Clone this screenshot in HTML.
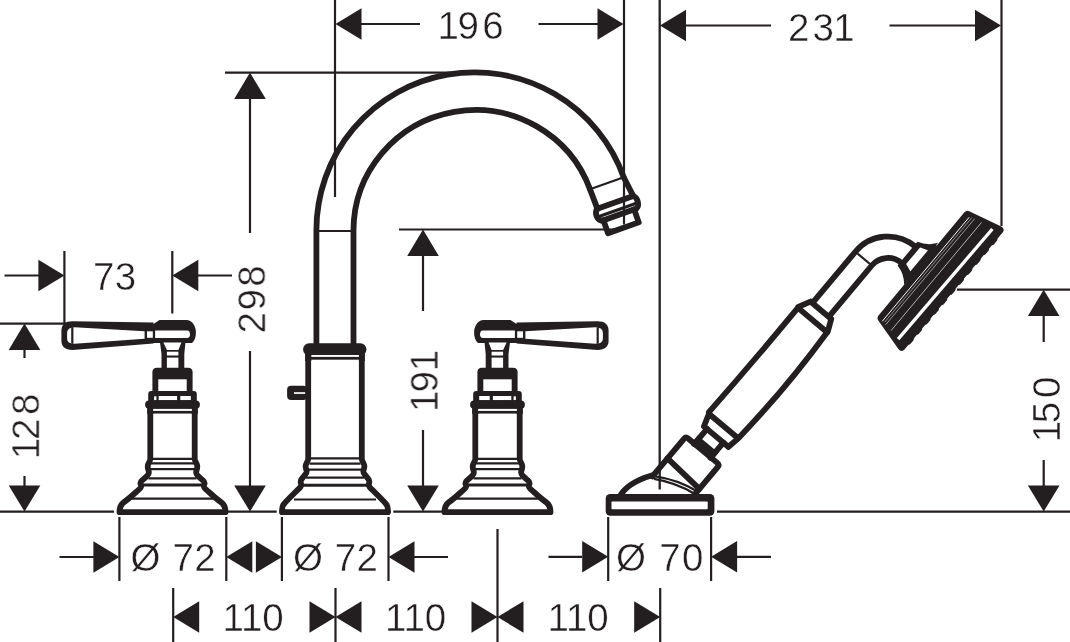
<!DOCTYPE html>
<html lang="en">
<head>
<meta charset="utf-8">
<title>Dimension drawing</title>
<style>
html,body{margin:0;padding:0;background:#fff;}
body{width:1070px;height:642px;overflow:hidden;}
svg{display:block;}
.k{stroke:#231f20;stroke-width:5.8;fill:none;stroke-linecap:round;stroke-linejoin:round;}
.m{stroke:#231f20;stroke-width:3;fill:none;stroke-linecap:butt;}
.t{stroke:#231f20;stroke-width:2.2;fill:none;stroke-linecap:butt;}
.f{fill:#231f20;stroke:none;}
.w{fill:#fff;stroke:none;}
text{font-family:"Liberation Sans",sans-serif;font-size:38.5px;fill:#231f20;stroke:#fff;stroke-width:0.45px;}
</style>
</head>
<body>
<svg width="1070" height="642" viewBox="0 0 1070 642">
<rect width="1070" height="642" fill="#fff"/>

<!-- ===== dimension / extension lines ===== -->
<g class="t" id="dims">
  <!-- 196 -->
  <path d="M335,0V197"/>
  <path d="M624,0V224.5"/>
  <path d="M361,24H420M538.5,24H598"/>
  <!-- 231 -->
  <path d="M659.7,0V489.5" stroke-width="2.3"/>
  <path d="M1001.5,0V226"/>
  <path d="M685,25.5H771M889.5,25.5H975"/>
  <!-- 298 -->
  <path d="M225,72.6H470"/>
  <path d="M250,98V233M250,351V487"/>
  <!-- 191 -->
  <path d="M399,229.5H619"/>
  <path d="M423,255V311M423,430V487"/>
  <!-- 73 -->
  <path d="M64.4,251V324M172.3,251V313.5"/>
  <path d="M4.5,275.5H39M198,275.5H232"/>
  <!-- 128 -->
  <path d="M0,323.6H66"/>
  <path d="M24.5,349V358M24.5,476V487"/>
  <!-- ground line -->
  <path d="M0,511.7H114M228,511.7H276.7M393.3,511.7H442M717,511.7H1070"/>
  <!-- 150 -->
  <path d="M957,289.7H1070"/>
  <path d="M1043.7,315V342M1043.7,460V488"/>
  <!-- dia 72 / 70 -->
  <path d="M119.4,517V581M226.3,517V581M281.9,517V581M388.5,517V581M608.2,517V581M711.1,517V581"/>
  <path d="M59.5,557H94M414,557H448M548.5,556.8H582M737,556.8H771"/>
  <!-- 110 -->
  <path d="M173.2,588V642M335.5,588V642M497.5,529V642M660.2,588V642"/>
</g>
<g class="f" id="arrows">
  <path d="M335.5,24L361.5,8.2V39.8Z"/>
  <path d="M623.5,24L597.5,8.2V39.8Z"/>
  <path d="M660,25.5L686,9.7V41.3Z"/>
  <path d="M1001,25.5L975,9.7V41.3Z"/>
  <path d="M250,72.6L234.2,99H265.8Z"/>
  <path d="M250,511.5L234.2,485.5H265.8Z"/>
  <path d="M423,229.5L407.2,256H438.8Z"/>
  <path d="M423,511.5L407.2,485.5H438.8Z"/>
  <path d="M64.4,275.5L38.4,259.7V291.3Z"/>
  <path d="M172.3,275.5L198.3,259.7V291.3Z"/>
  <path d="M24.5,323.6L8.7,350H40.3Z"/>
  <path d="M24.5,511.5L8.7,485.5H40.3Z"/>
  <path d="M1043.7,289.7L1027.9,316H1059.5Z"/>
  <path d="M1043.7,511.5L1027.9,485.5H1059.5Z"/>
  <path d="M119.4,557L93.4,541.2V572.8Z"/>
  <path d="M226.3,557L252.3,541.2V572.8Z"/>
  <path d="M281.9,557L255.9,541.2V572.8Z"/>
  <path d="M388.5,557L414.5,541.2V572.8Z"/>
  <path d="M608.2,556.8L582.2,541V572.6Z"/>
  <path d="M711.1,556.8L737.1,541V572.6Z"/>
  <path d="M173.2,617L199.2,601.2V632.8Z"/>
  <path d="M335.5,617L309.5,601.2V632.8Z"/>
  <path d="M335.5,617L361.5,601.2V632.8Z"/>
  <path d="M497.5,617L471.5,601.2V632.8Z"/>
  <path d="M497.5,617L523.5,601.2V632.8Z"/>
  <path d="M660.2,617L634.2,601.2V632.8Z"/>
</g>


<!-- ===== fixtures ===== -->
<defs>
  <!-- handle valve, lever to the right, centred on x=0 -->
  <g id="hdl">
    <!-- lever -->
    <path class="f" d="M19,322.6L100,321.3Q111.1,321.3 111.1,331V340.5Q111.1,349.9 100,349.9L19,343.6Z"/>
    <path class="w" d="M27.9,331.2L98,327.2Q105.4,327.4 105.4,333V338.5Q105.4,343.8 98,343.8L27.900,338.8Z"/>
    <rect class="w" x="19.7" y="331.3" width="5.8" height="6.5"/>
    <path class="t" d="M100.2,327.2V343.8" stroke-width="1.5"/>
    <!-- hub -->
    <path class="f" d="M13,320H-13.9C-19.5,320 -23.4,326 -23.4,332.4C-23.4,337 -22.3,340.5 -19.5,342.9H19.5V324.3Z"/>
    <path class="w" d="M17.4,330.4H-14.5Q-17.5,330.4 -17.5,334.2Q-17.5,338 -14.5,338H17.4Z"/>
    <!-- stem -->
    <path class="f" d="M-13.2,340L-11.8,354V369H11V354L12.8,340Z"/>
    <path class="w" d="M-8.9,342.4H9.1L5.6,349.9H-5.9Z"/>
    <rect class="w" x="-5.9" y="351.7" width="11.5" height="3.8"/>
    <rect class="w" x="-5.9" y="357.6" width="11.5" height="10.4"/>
    <!-- upper collar -->
    <path class="f" d="M-20.1,392V372.3Q-20.1,367.8 -15.6,367.8H15.6Q20.1,367.8 20.1,372.3V392Z"/>
    <rect class="w" x="-14.2" y="379.3" width="28.4" height="11.9"/>
    <!-- lower collar -->
    <path class="f" d="M-24.3,402V394Q-24.3,391 -21.3,391H21.3Q24.3,391 24.3,394V402Z"/>
    <rect class="w" x="-18.3" y="396" width="10.5" height="4.1"/>
    <rect class="w" x="-4.6" y="396" width="18.4" height="4.1"/>
    <rect class="w" x="16.1" y="396.3" width="2.3" height="3.8"/>
    <rect class="f" x="-27.4" y="400.6" width="54.8" height="8.2" rx="4.1"/>
    <rect class="f" x="-25.4" y="403" width="50.8" height="10.8"/>
    <rect class="w" x="-19.4" y="408.9" width="38.8" height="2"/>
    <rect class="w" x="-19" y="413.7" width="38" height="4"/>
    <!-- body + bell -->
    <path class="k" stroke-width="6.3" stroke-linecap="butt" d="M-22.2,412L-22.2,459C-22.2,461.5 -24.8,463.5 -24.8,466.3C-24.8,469.5 -23.6,470.5 -23.6,472.6C-23.6,474.6 -24.6,475.2 -26,476.5L-30.3,480.3C-31.5,481.3 -32.1,481.8 -32.1,483C-32.1,484.4 -31.3,484.8 -31.3,486C-31.3,488 -34,490 -36,491.7C-38.5,493.8 -40,495.3 -42,497C-45,499.6 -47,501 -49.5,503C-52,505.2 -53,507.5 -53,512"/>
    <path class="k" stroke-width="6.3" stroke-linecap="butt" d="M22.2,412L22.2,459C22.2,461.5 24.8,463.5 24.8,466.3C24.8,469.5 23.6,470.5 23.6,472.6C23.6,474.6 24.6,475.2 26,476.5L30.3,480.3C31.5,481.3 32.1,481.8 32.1,483C32.1,484.4 31.3,484.8 31.3,486C31.3,488 34,490 36,491.7C38.5,493.8 40,495.3 42,497C45,499.6 47,501 49.5,503C52,505.2 53,507.5 53,512"/>
    <path class="k" stroke-width="7" d="M-52.5,512.2H52.5"/>
    <path class="t" d="M-20,458.9H20M-22,463.4H22M-23,469.1H23M-24,478.4H24M-41,498.6H41"/>
    <path class="m" stroke-width="2.8" d="M-30,485.1H30"/>
  </g>
</defs>
<use href="#hdl" transform="translate(172.5,0) scale(-1,1)"/>
<use href="#hdl" transform="translate(497.5,0)"/>

<!-- faucet -->
<g id="faucet">
  <!-- spout pipe -->
  <path class="k" stroke-width="6.9" stroke-linecap="butt" d="M316.4,345V230.5A158.24,157.9 0 0 1 623.7,177.2"/>
  <path class="k" stroke-width="6.9" stroke-linecap="butt" d="M353.5,345V230.6A121.96,120.6 0 0 1 590,189.2"/>
  <path class="t" d="M317,231H353"/>
  <g transform="translate(606.85,183.2) rotate(-19.6)">
    <path class="t" d="M-17.9,0H17.9"/>
    <path class="k" stroke-width="6.6" d="M-17.9,0L-17.5,20.5M17.9,0L20.5,20.5"/>
    <path class="k" stroke-width="6" d="M-17.5,20.9H20.5"/>
    <path class="k" stroke-width="5.6" d="M-17.5,20.9C-21.8,23.3 -21.8,31.5 -17,33.8H19.5C24,31.5 24,23.3 20.5,20.9"/>
    <path class="m" stroke-width="2.3" d="M-18.5,28.8H21"/>
    <path class="k" stroke-width="5.6" d="M-15.7,33.8V47.6H16.9V33.8"/>
  </g>
  <!-- cap -->
  <rect class="f" x="303.1" y="343.2" width="63.3" height="12.4" rx="6"/>
  <rect class="f" x="305.1" y="349" width="59.8" height="12"/>
  <rect class="w" x="311.3" y="355" width="47.6" height="1.9"/>
  <rect class="w" x="311.3" y="359.7" width="47.6" height="4"/>
  <!-- diverter knob -->
  <rect class="f" x="287.1" y="385.8" width="20" height="14.2" rx="4"/>
  <rect class="w" x="294" y="392.2" width="11.5" height="1.7"/>
  <!-- body + bell -->
  <path class="k" stroke-width="6.3" stroke-linecap="butt" d="M308.2,358L308.2,459C308.2,461.5 305.6,463.5 305.6,466.3C305.6,469 306.7,469.8 306.7,471.2C306.7,473 306,473.6 305,474.8L302,478.6C301.2,479.6 300.7,480.2 300.7,481.4C300.7,483 301.2,483.6 301.2,484.9C301.2,487 298.5,489 297,490.5C294.5,493 292,495.5 289.5,498C287,500.5 285,502.5 283.2,505C282,507 282,509 282,512"/>
  <path class="k" stroke-width="6.3" stroke-linecap="butt" d="M361.8,358L361.8,459C361.8,461.5 364.4,463.5 364.4,466.3C364.4,469 363.3,469.8 363.3,471.2C363.3,473 364,473.6 365,474.8L368,478.6C368.8,479.6 369.3,480.2 369.3,481.4C369.3,483 368.8,483.6 368.8,484.9C368.8,487 371.5,489 373,490.5C375.5,493 378,495.5 380.5,498C383,500.5 385,502.5 386.8,505C388,507 388,509 388,512"/>
  <path class="k" stroke-width="7" d="M282.500,512.2H387.500"/>
  <path class="t" d="M311,458.4H359M309.500,463.6H360.500M308,469.6H362M306,477.6H364M294,499.5H376"/>
  <path class="m" stroke-width="2.8" d="M303,485.3H367"/>
</g>


<!-- hand shower + holder -->
<g id="handshower">
  <!-- dome of holder -->
  <path class="k" stroke-width="6.4" stroke-linecap="butt" d="M619.5,497C624,488 634,480.500 652.500,475.2"/>
  <path class="t" stroke-width="1.1" d="M655,476.3Q678,479.500 697.500,491.500M654,478.8Q676,482.500 694,493.500"/>
  <g transform="translate(634.1,532.1) rotate(-50)">
    <!-- holder cylinder -->
    <path class="k" stroke-width="6.4" d="M54.500,-21.800H103.500Q106.500,-21.800 106.500,-18.800V19.200Q106.500,22.200 103.500,22.200H66"/>
    <path class="f" d="M106,-13.300H115V13.600H106Z"/>
    <path class="k" stroke-width="6.4" d="M78,-21.800L75,22.200"/>
    <!-- neck -->
    <path class="k" stroke-width="6.4" stroke-linecap="butt" d="M106,-10.500H126M106,10.800H126"/>
    <!-- lower ferrule -->
    <path class="k" stroke-width="6.8" d="M125.900,-12.500V16.500"/>
    <path class="k" stroke-width="10.500" d="M138.750,-16.500V17"/>
    <path class="k" stroke-width="5" d="M126,-14.500L138,-18.500M126,17.500L138,19.500"/>
    <!-- handle -->
    <path class="k" stroke-width="6.4" stroke-linecap="butt" d="M140,-19.800Q208,-18.200 276,-18.600M140,19.600Q208,24 276,19.500"/>
    <!-- upper ferrule -->
    <path class="k" stroke-width="9.2" d="M277.100,-17V17.500"/>
    <path class="k" stroke-width="7.300" d="M290,-11.500V12.500"/>
    <path class="k" stroke-width="5" d="M278,-19L290,-13M278,19.500L290,14"/>
    <!-- tube + elbow -->
    <path class="k" stroke-width="6.4" stroke-linecap="butt" d="M291,-10.700H357A42.500,42.500 0 0 1 399.500,31.800"/>
    <path class="k" stroke-width="6.4" stroke-linecap="butt" d="M291,10.700H357A21.100,21.100 0 0 1 378.100,31.800"/>
    <path class="t" stroke-width="1.6" d="M357,-10.700V10.700"/>
    <!-- connector to head -->
    <path class="k" stroke-width="6.6" d="M378.500,33.200H401.500"/>
    <path class="f" d="M369,44H414V51H369Z"/>
    <path class="f" d="M400,30.500H404.500Q408,41 417,47H405.700L402,36.300Z"/>
    <path class="f" d="M381,30.500H373.500Q371.500,41 363,48H376L380.200,36.300Z"/>
    <!-- head -->
    <path d="M323,52L457.300,51.500L466.300,85.800L314,85.800Z" fill="#231f20" stroke="#231f20" stroke-width="8" stroke-linejoin="round"/>
    <path d="M322,88.300H458" fill="none" stroke="#231f20" stroke-width="4.800" stroke-linecap="round" stroke-dasharray="4 9"/>
    <g stroke="#fff" fill="none">
      <path stroke-width="0.9" d="M321,54.600L456.500,54.300"/>
      <path stroke-width="0.45" d="M322,57L458,56.600"/>
      <path stroke-width="0.5" d="M320.500,59.400L459,59.400"/>
      <path stroke-width="0.6" d="M319.500,67.300L460.500,67.100"/>
      <path stroke-width="3.300" d="M317.500,78.200L462.500,79.600"/>
    </g>
  </g>
  <!-- base plate -->
  <rect class="f" x="605.7" y="494" width="108.7" height="21.8" rx="4.5"/>
  <rect class="w" x="611.5" y="501.4" width="96.2" height="7.8" rx="0.8"/>
</g>

<!-- ===== dimension texts ===== -->
<g id="labels" opacity="0.999">
  <text x="437.6 457.5 482.2" y="39">196</text>
  <text x="788.1 812.5 833.2" y="41">231</text>
  <text x="93.1 114.8" y="290">73</text>
  <text transform="translate(265.2,0) rotate(-90)" x="-333.6 -310.6 -286.7" y="0">298</text>
  <text transform="translate(39.2,0) rotate(-90)" x="-459.3 -440 -414.9" y="0">128</text>
  <text transform="translate(437.7,0) rotate(-90)" x="-412.1 -392.5 -371.2" y="0">191</text>
  <text transform="translate(1060,0) rotate(-90)" x="-442.2 -423.2 -398" y="0">150</text>
  <text x="130.6 161 172.4 194.2" y="571.3">Ø 72</text>
  <text x="293 323 334.8 356.6" y="571.3">Ø 72</text>
  <text x="616 647 659.2 681.9" y="571.3">Ø 70</text>
  <text x="222.6 241.1 262.2" y="631.3">110</text>
  <text x="385.1 403.6 424.7" y="631.3">110</text>
  <text x="547.6 566.1 587.2" y="631.3">110</text>
</g>
</svg>
</body>
</html>
